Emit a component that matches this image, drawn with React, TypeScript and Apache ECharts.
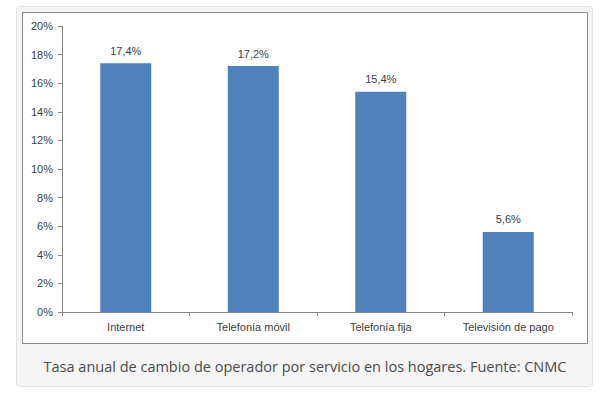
import React, { useEffect, useRef } from "react";
import * as echarts from "echarts";

const categories = ["Internet", "Telefonía móvil", "Telefonía fija", "Televisión de pago"];
const values = [17.4, 17.2, 15.4, 5.6];
const valueLabels = ["17,4%", "17,2%", "15,4%", "5,6%"];
const caption = "Tasa anual de cambio de operador por servicio en los hogares. Fuente: CNMC";

export default function App() {
  const ref = useRef<HTMLDivElement>(null);
  useEffect(() => {
    const chart = echarts.init(ref.current!, null, { renderer: "svg" });
    chart.setOption({
      animation: false,
      backgroundColor: "#ffffff",
      graphic: [
        {
          type: "rect",
          z: -10,
          silent: true,
          shape: { x: 16.5, y: 6.5, width: 576, height: 380, r: 3 },
          style: { fill: "#f5f5f5", stroke: "#e2e2e2", lineWidth: 1 },
        },
        {
          type: "rect",
          z: -9,
          silent: true,
          shape: { x: 22.5, y: 12.5, width: 565, height: 331 },
          style: { fill: "#ffffff", stroke: "#8a8a8a", lineWidth: 1 },
        },
        {
          type: "text",
          x: 305,
          y: 366,
          style: {
            text: caption,
            fill: "#4a4a4a",
            font: '14.5px "Open Sans"',
            textAlign: "center",
            textVerticalAlign: "middle",
          },
        },
      ],
      grid: { left: 62, right: 38, top: 26, bottom: 85, containLabel: false },
      xAxis: {
        type: "category",
        data: categories,
        axisLine: { lineStyle: { color: "#868686" } },
        axisTick: { show: true, length: 4, lineStyle: { color: "#868686" } },
        axisLabel: {
          color: "#404040",
          fontFamily: "Liberation Sans",
          fontSize: 11,
          margin: 9,
        },
      },
      yAxis: {
        type: "value",
        min: 0,
        max: 20,
        interval: 2,
        axisLine: { show: true, lineStyle: { color: "#868686" } },
        axisTick: { show: true, length: 4, lineStyle: { color: "#868686" } },
        splitLine: { show: false },
        axisLabel: {
          color: "#404040",
          fontFamily: "Liberation Sans",
          fontSize: 11,
          margin: 9,
          formatter: "{value}%",
        },
      },
      series: [
        {
          type: "bar",
          data: values,
          barWidth: "40%",
          itemStyle: { color: "#4f81bd" },
          label: {
            show: true,
            position: "top",
            distance: 7,
            color: "#404040",
            fontFamily: "Liberation Sans",
            fontSize: 11,
            formatter: (p: any) => valueLabels[p.dataIndex],
          },
        },
      ],
    });
    return () => chart.dispose();
  }, []);
  return (
    <div style={{ position: "absolute", left: 0, top: 0, width: 610, height: 397 }}>
      <div ref={ref} style={{ width: 610, height: 397 }} />
    </div>
  );
}
